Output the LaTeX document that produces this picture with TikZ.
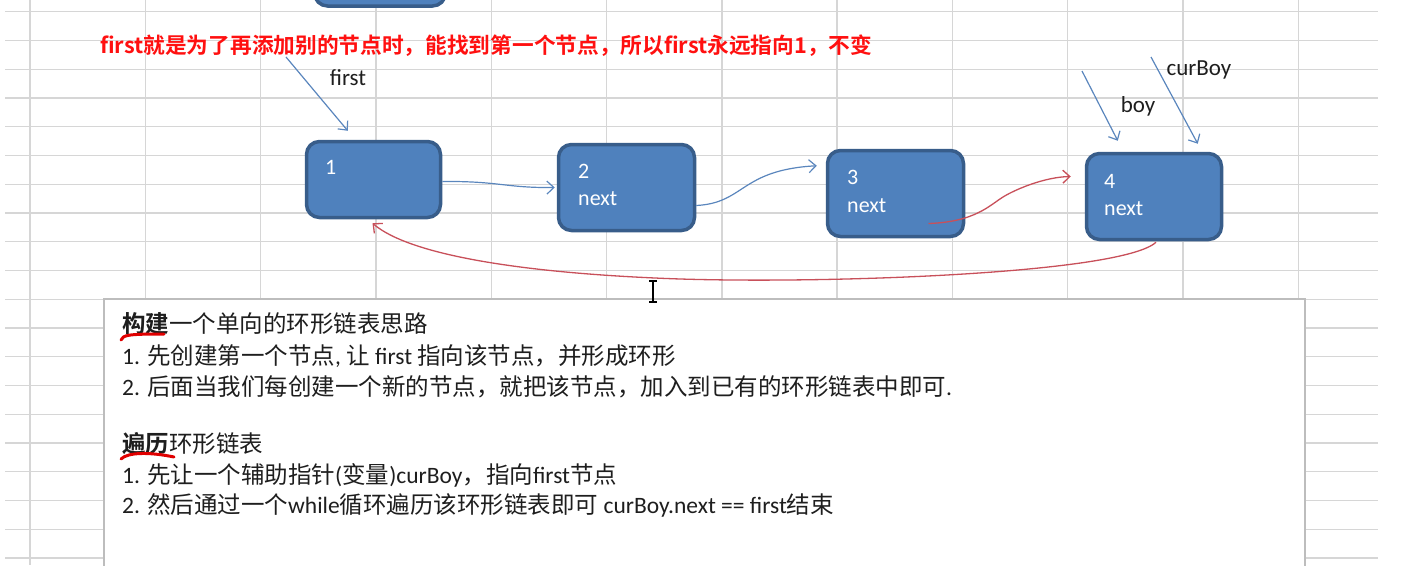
\documentclass[tikz,border=0pt]{standalone}
\usepackage{fontspec}
\usepackage{graphicx}
\setmainfont{Carlito}
\newfontfamily\zhfont{Noto Sans CJK SC}
\newfontfamily\zhbold{Noto Sans CJK SC Bold}
\usetikzlibrary{arrows.meta,calc}
\definecolor{gridc}{HTML}{D6D6D6}
\definecolor{boxfill}{HTML}{4F81BD}
\definecolor{boxline}{HTML}{385D8A}
\definecolor{barrow}{HTML}{5A86BD}
\definecolor{rarrow}{HTML}{C8505A}
\definecolor{titlered}{HTML}{FF1010}
\definecolor{txt}{HTML}{1E1E1E}
\definecolor{notebd}{HTML}{BDBDBD}
\definecolor{squig}{HTML}{E00000}
\tikzset{
 gridline/.style={gridc, line width=1.4pt},
 listbox/.style={rounded corners=13pt, fill=boxfill, draw=boxline, line width=3.5pt, inner sep=0},
 boxtext/.style={text=white, font=\fontsize{22}{24}\selectfont, anchor=west, inner sep=0},
 ptrlabel/.style={text=txt, font=\fontsize{23}{25}\selectfont, inner sep=0},
 blink/.style={barrow, line width=1.2pt, -{Straight Barb[length=7pt,width=13pt]}},
 rlink/.style={rarrow, line width=1.3pt, -{Straight Barb[length=7pt,width=13pt]}},
 noteline/.style={anchor=base west, inner sep=0, text=txt, font=\fontsize{23.5}{26}\selectfont},
 squiggle/.style={squig, line width=3pt, line cap=round},
 notebox/.style={draw=notebd, fill=white, line width=2pt},
}
\begin{document}
\begin{tikzpicture}[x=1pt,y=-1pt]
\useasboundingbox (0,0) rectangle (1403,565);
\clip (0,0) rectangle (1403,565);
% spreadsheet grid
\foreach \k in {0,...,19} \draw[gridline] (5,{11.7+28.75*\k}) -- (1378,{11.7+28.75*\k});
\foreach \k in {0,...,11} \draw[gridline] ({30+115.3*\k},0) -- ({30+115.3*\k},565);
% title
\node[anchor=west, inner sep=0, text=titlered] (title) at (100,46)
  {\resizebox{772pt}{!}{\fontsize{22}{24}\selectfont\zhbold first就是为了再添加别的节点时，能找到第一个节点，所以first永远指向1，不变}};
% boxes
\node[listbox, minimum width=131pt, minimum height=60pt] (b0) at (380,-24) {};
\node[listbox, minimum width=134pt, minimum height=76pt] (b1) at (373.5,179.5) {};
\node[listbox, minimum width=136pt, minimum height=86pt] (b2) at (626.5,187.5) {};
\node[listbox, minimum width=136pt, minimum height=86pt] (b3) at (895.5,193.5) {};
\node[listbox, minimum width=135pt, minimum height=86pt] (b4) at (1154,196.5) {};
\node[boxtext] (t1) at (325,167) {1};
\node[boxtext] (t2) at (578,171) {2};
\node[boxtext] (n2) at (578,199) {next};
\node[boxtext] (t3) at (847,177) {3};
\node[boxtext] (n3) at (847,206) {next};
\node[boxtext] (t4) at (1104,181) {4};
\node[boxtext] (n4) at (1104,209) {next};
% pointer labels
\node[ptrlabel] (lfirst) at (348,78) {first};
\node[ptrlabel] (lboy) at (1138,106) {boy};
\node[ptrlabel] (lcur) at (1199,70) {curBoy};
\coordinate (pf) at (286,57);
\coordinate (pb) at (1082,71);
\coordinate (pc) at (1151,57);
\draw[blink] (pf) -- ($(b1.north west)+(43,-9)$);
\draw[blink] (pb) -- ($(b4.north west)+(33,-11)$);
\draw[blink] (pc) -- ($(b4.north west)+(113,-8)$);
% links
\draw[blink] ($(b1.east)+(0,2)$) .. controls (500,181) and (505,188) .. ($(b2.west)+(-2,0)$);
\draw[blink] ($(b2.east)+(0,18)$) .. controls (745,203) and (740,170) .. ($(b3.north west)+(-9,17)$);
\draw[rlink] ($(b3.center)+(33,30)$) .. controls (975,222) and (990,205) .. (1003,197)
   .. controls (1016,189) and (1045,177) .. ($(b4.west)+(-14,-20)$);
\draw[rlink] ($(b4.south)+(2,1)$) .. controls (1120,275) and (800,285) .. (655,278)
   .. controls (520,272) and (410,255) .. ($(b1.south)+(-1,4)$);
% note box
\draw[notebox] (104,299) rectangle (1305,590);
\node[noteline] (l1) at (122,332) {{\zhbold 构建}{\zhfont 一个单向的环形链表思路}};
\node[noteline] (l2) at (122,364) {1. {\zhfont 先创建第一个节点}, {\zhfont 让} first {\zhfont 指向该节点，并形成环形}};
\node[noteline] (l3) at (122,395) {2. {\zhfont 后面当我们每创建一个新的节点，就把该节点，加入到已有的环形链表中即可}.};
\node[noteline] (l5) at (122,452) {{\zhbold 遍历}{\zhfont 环形链表}};
\node[noteline] (l6) at (122,483) {1. {\zhfont 先让一个辅助指针}({\zhfont 变量})curBoy{\zhfont ，指向}first{\zhfont 节点}};
\node[noteline] (l7) at (122,513) {2. {\zhfont 然后通过一个}while{\zhfont 循环遍历该环形链表即可} curBoy.next == first{\zhfont 结束}};
\draw[squiggle] (121,340) .. controls (123,335) and (128,334) .. (164,334);
\draw[squiggle] (121,459) .. controls (128,452) and (150,452) .. (174,457);
% text cursor
\draw[black, line width=1.6pt] (653,281) -- (653,302) (649,281) -- (657,281) (649,302) -- (657,302);
\end{tikzpicture}
\end{document}
